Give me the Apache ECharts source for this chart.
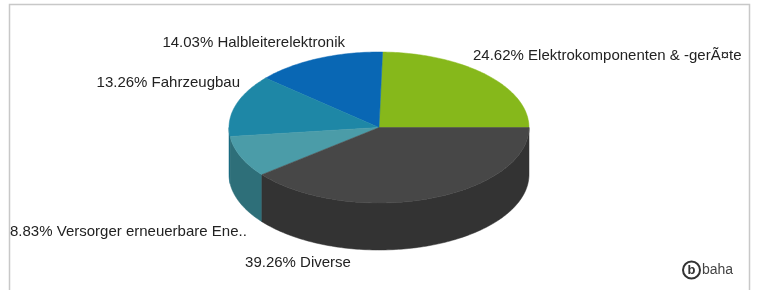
<!DOCTYPE html>
<html>
<head>
<meta charset="utf-8">
<script src="https://cdn.jsdelivr.net/npm/echarts@6/dist/echarts.min.js"></script>
<style>
  html, body { margin: 0; padding: 0; background: #fff; }
  #chart { width: 757px; height: 290px; }
</style>
</head>
<body>
<div id="chart"></div>
<script>
// data, counter-clockwise from 3 o'clock
var names = ['Elektrokomponenten & -gerÃ¤te', 'Halbleiterelektronik', 'Fahrzeugbau', 'Versorger erneuerbare Ene..', 'Diverse'];
var values = [24.62, 14.03, 13.26, 8.83, 39.26];

var topColors = ['#86b81b', '#0967b4', '#1e87a6', '#4b9ca8', '#474747'];
var sideColors = ['#5f8a12', '#064f8a', '#176a82', '#2e6f79', '#333333'];

// pie geometry (projected ellipse)
var cx = 379, cy = 127.5, rx = 150, ry = 75.5, depth = 47;

var total = values.reduce(function (a, b) { return a + b; }, 0);
var starts = [];
var acc = 0;
values.forEach(function (v) { starts.push(acc / total * 360); acc += v; });

function pt(deg, dy) {
    var r = deg * Math.PI / 180;
    return [cx + rx * Math.cos(r), cy - ry * Math.sin(r) + (dy || 0)];
}
function arc(a0, a1, dy) {
    var pts = [];
    var n = Math.max(2, Math.ceil(Math.abs(a1 - a0)));
    for (var i = 0; i <= n; i++) pts.push(pt(a0 + (a1 - a0) * i / n, dy));
    return pts;
}

var chart = echarts.init(document.getElementById('chart'));

option = {
    animation: false,
    series: [{
        // outer walls, only the front half is visible
        type: 'custom',
        coordinateSystem: 'none',
        z: 1,
        data: values.map(function (v, i) { return [i, v]; }),
        renderItem: function (params, api) {
            var i = params.dataIndex;
            var a0 = starts[i], a1 = starts[i] + values[i] / total * 360;
            var s = Math.max(a0, 180), e = Math.min(a1, 360);
            if (e <= s) return;
            var pts = arc(s, e, 0).concat(arc(e, s, depth));
            return {
                type: 'polygon',
                shape: { points: pts },
                style: { fill: sideColors[i], stroke: sideColors[i], lineWidth: 0.5 }
            };
        }
    }, {
        // top faces
        type: 'custom',
        coordinateSystem: 'none',
        z: 2,
        data: values.map(function (v, i) { return [i, v]; }),
        renderItem: function (params, api) {
            var i = params.dataIndex;
            var a0 = starts[i], a1 = starts[i] + values[i] / total * 360;
            var pts = [[cx, cy]].concat(arc(a0, a1, 0));
            return {
                type: 'polygon',
                shape: { points: pts },
                style: { fill: topColors[i], stroke: topColors[i], lineWidth: 0.5 }
            };
        }
    }],
    graphic: []
};

// labels
var labelPos = [
    { x: 473, y: 56, align: 'left' },
    { x: 345, y: 43, align: 'right' },
    { x: 240, y: 83, align: 'right' },
    { x: 10, y: 232, align: 'left' },
    { x: 298, y: 263, align: 'center' }
];
names.forEach(function (n, i) {
    option.graphic.push({
        type: 'text',
        x: labelPos[i].x,
        y: labelPos[i].y,
        z: 10,
        style: {
            text: (values[i] / total * 100).toFixed(2) + '% ' + n,
            fill: '#222',
            font: '15px "Liberation Sans", Arial, sans-serif',
            textAlign: labelPos[i].align,
            textVerticalAlign: 'middle'
        }
    });
});

// frame
option.graphic.push({
    type: 'rect',
    z: 0,
    shape: { x: 9.5, y: 4.5, width: 740, height: 300 },
    style: { fill: 'none', stroke: '#c8c8c8', lineWidth: 1.5 }
});

// baha logo
option.graphic.push({
    type: 'circle', z: 10,
    shape: { cx: 691.5, cy: 270, r: 8.5 },
    style: { fill: '#fff', stroke: '#333', lineWidth: 2 }
});
option.graphic.push({
    type: 'text', z: 11, x: 691.5, y: 270,
    style: { text: 'b', fill: '#333', font: 'bold 13px "Liberation Sans", Arial, sans-serif', textAlign: 'center', textVerticalAlign: 'middle' }
});
option.graphic.push({
    type: 'text', z: 11, x: 702, y: 270,
    style: { text: 'baha', fill: '#444', font: '14px "Liberation Sans", Arial, sans-serif', textAlign: 'left', textVerticalAlign: 'middle' }
});

chart.setOption(option);
</script>
</body>
</html>
